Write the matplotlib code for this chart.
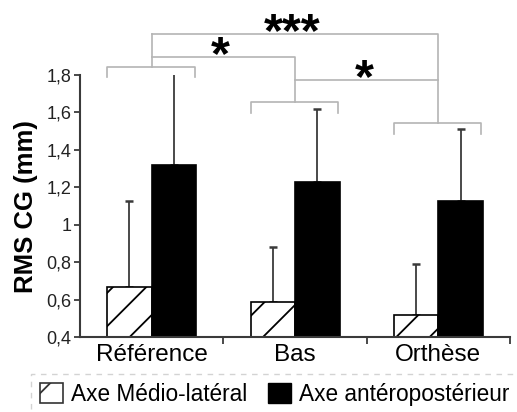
import matplotlib
matplotlib.use("Agg")
import matplotlib.pyplot as plt
import matplotlib.patches as mpatches
import numpy as np

plt.rcParams['font.family'] = ['Liberation Sans', 'DejaVu Sans']
plt.rcParams['hatch.linewidth'] = 1.3

# data
categories = ["Référence", "Bas", "Orthèse"]
medio_lateral = [0.67, 0.59, 0.52]
medio_lateral_sd = [0.46, 0.29, 0.27]
antero_post = [1.32, 1.23, 1.13]
antero_post_sd = [0.49, 0.39, 0.38]
series_labels = ["Axe Médio-latéral", "Axe antéropostérieur"]

# significance: (group a, group b, line height, stars)
sig_pairs = [(0, 1, 1.895, "*"), (1, 2, 1.773, "*"), (0, 2, 2.02, "***")]
group_bracket = [1.842, 1.654, 1.542]

fig = plt.figure(figsize=(5.17, 4.12), dpi=100)
ax = fig.add_axes([0.1547, 0.181, 0.832, 0.637])

x = np.arange(len(categories))
w = 0.31
dark = "#3a3a3a"
grey = "#b4b4b4"

b1 = ax.bar(x - w/2, medio_lateral, w, color="white", edgecolor="black",
            linewidth=1.2, hatch="/", zorder=2)
b2 = ax.bar(x + w/2, antero_post, w, color="black", edgecolor="black", linewidth=1.2, zorder=2)
ax.errorbar(x - w/2, medio_lateral, yerr=[np.zeros(3), medio_lateral_sd], fmt="none",
            ecolor=dark, elinewidth=1.3, capsize=3, capthick=1.8, zorder=1)
ax.errorbar(x + w/2, antero_post, yerr=[np.zeros(3), antero_post_sd], fmt="none",
            ecolor=dark, elinewidth=1.3, capsize=3, capthick=1.8, zorder=1)

ax.set_xlim(-0.5, 2.5)
ax.set_ylim(0.4, 1.8)
ax.set_yticks([0.4, 0.6, 0.8, 1.0, 1.2, 1.4, 1.6, 1.8])
ax.set_yticklabels(["0,4", "0,6", "0,8", "1", "1,2", "1,4", "1,6", "1,8"])
ax.set_xticks(x)
ax.set_xticklabels(categories)
ax.set_xticks([0.5, 1.5, 2.5], minor=True)
ax.tick_params(axis="x", which="major", length=0, pad=5, labelsize=17.5, labelcolor="black")
ax.tick_params(axis="x", which="minor", length=5, width=1.3, color=dark, direction="out")
ax.tick_params(axis="y", length=4, width=1.3, color=dark, pad=2, labelsize=13, labelcolor="#222222")
for s in ["top", "right"]:
    ax.spines[s].set_visible(False)
for s in ["left", "bottom"]:
    ax.spines[s].set_color(dark)
    ax.spines[s].set_linewidth(1.5)
ax.set_ylabel("RMS CG (mm)", fontsize=18.5, fontweight="bold", labelpad=6)

# group brackets
leg = 0.055
for i, yb in enumerate(group_bracket):
    ax.plot([i - 0.31, i - 0.31, i + 0.30, i + 0.30], [yb - leg, yb, yb, yb - leg],
            color=grey, lw=1.2, clip_on=False, zorder=0)

# pair brackets
ax.plot([0, 0], [group_bracket[0], 2.02], color=grey, lw=1.2, clip_on=False)
ax.plot([0, 1, 1], [1.895, 1.895, group_bracket[1]], color=grey, lw=1.2, clip_on=False)
ax.plot([1, 2], [1.773, 1.773], color=grey, lw=1.2, clip_on=False)
ax.plot([0, 2, 2], [2.02, 2.02, group_bracket[2]], color=grey, lw=1.2, clip_on=False)
for a, b, yl, st in sig_pairs:
    ax.text((a + b) / 2 - 0.02, yl - 0.118, st, ha="center", va="bottom", fontsize=35,
            fontweight="bold", clip_on=False)

# legend
h1 = mpatches.Patch(facecolor="white", edgecolor="#333333", hatch="/", linewidth=1.2)
h2 = mpatches.Patch(facecolor="black", edgecolor="black")
lg = fig.legend([h1, h2], series_labels, loc="upper left", bbox_to_anchor=(0.06, 0.093),
                ncol=2, fontsize=16.3, frameon=True, fancybox=False, handlelength=1.0,
                handleheight=1.0, handletextpad=0.35, columnspacing=0.95, borderpad=0.4,
                borderaxespad=0)
fr = lg.get_frame()
fr.set_linestyle((0, (4, 4)))
fr.set_edgecolor("#c8c8c8")
fr.set_linewidth(1.0)

fig.savefig("out.png", dpi=100)
